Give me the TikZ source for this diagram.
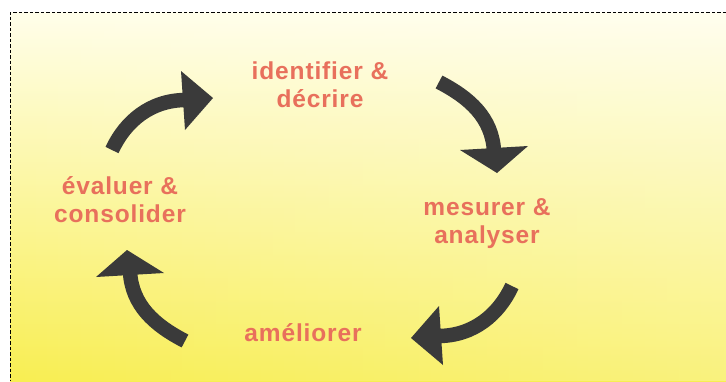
\documentclass[tikz,border=0pt]{standalone}
\usepackage{fontspec}
\setmainfont{Liberation Sans}
\usetikzlibrary{fadings}
\definecolor{paper}{RGB}{255,254,234}
\definecolor{midsun}{RGB}{251,245,135}
\definecolor{sun}{RGB}{248,238,82}
\definecolor{salmon}{RGB}{232,112,92}
\definecolor{ink}{RGB}{58,58,58}
\tikzfading[name=fadetoright, left color=transparent!100, right color=transparent!0]
\begin{document}
\begin{tikzpicture}[x=1pt,y=-1pt,
  steplabel/.style={text=salmon, align=center,
    font=\fontsize{24.5}{28}\selectfont\bfseries\addfontfeatures{LetterSpace=3.5}},
  shaft/.style={draw=ink, line width=14.5pt},
  head/.style={fill=ink}]
\useasboundingbox (0,0) rectangle (726,381);
% page and yellow panel
\fill[white] (0,0) rectangle (726,381);
\shade[top color=paper, middle color=midsun, bottom color=sun] (10,12) rectangle (726,381);
\fill[white, opacity=0.25, path fading=fadetoright] (10,12) rectangle (726,381);
\draw[dash pattern=on 3.5pt off 2pt, line width=1pt] (726,12) -- (10,12) -- (10,381);

% cycle steps
\node[steplabel] (identify) at (320,85) {identifier \&\\décrire};
\node[steplabel] (measure) at (487,224) {mesurer \&\\analyser};
\node[steplabel] (improve) at (303,333) {améliorer};
\node[steplabel] (evaluate) at (120,200) {évaluer \&\\consolider};

% curved arrows between the steps
\coordinate (t1) at (112,150);
\coordinate (b1) at (186,100);
\draw[shaft] (t1) .. controls (125,122) and (150,100) .. (b1);
\fill[head] (181,71) -- (213,98) -- (185,130) -- cycle;

\coordinate (t2) at (439,82);
\coordinate (b2) at (494,151);
\draw[shaft] (t2) .. controls (470,98) and (492,118) .. (b2);
\fill[head] (460,150) -- (497,173) -- (528,146) -- cycle;

\coordinate (t3) at (512,286);
\coordinate (b3) at (438,336);
\draw[shaft] (t3) .. controls (499,314) and (474,336) .. (b3);
\fill[head] (443,365) -- (411,338) -- (439,306) -- cycle;

\coordinate (t4) at (185,341);
\coordinate (b4) at (130,272);
\draw[shaft] (t4) .. controls (154,325) and (132,305) .. (b4);
\fill[head] (164,273) -- (127,250) -- (96,277) -- cycle;
\end{tikzpicture}
\end{document}
